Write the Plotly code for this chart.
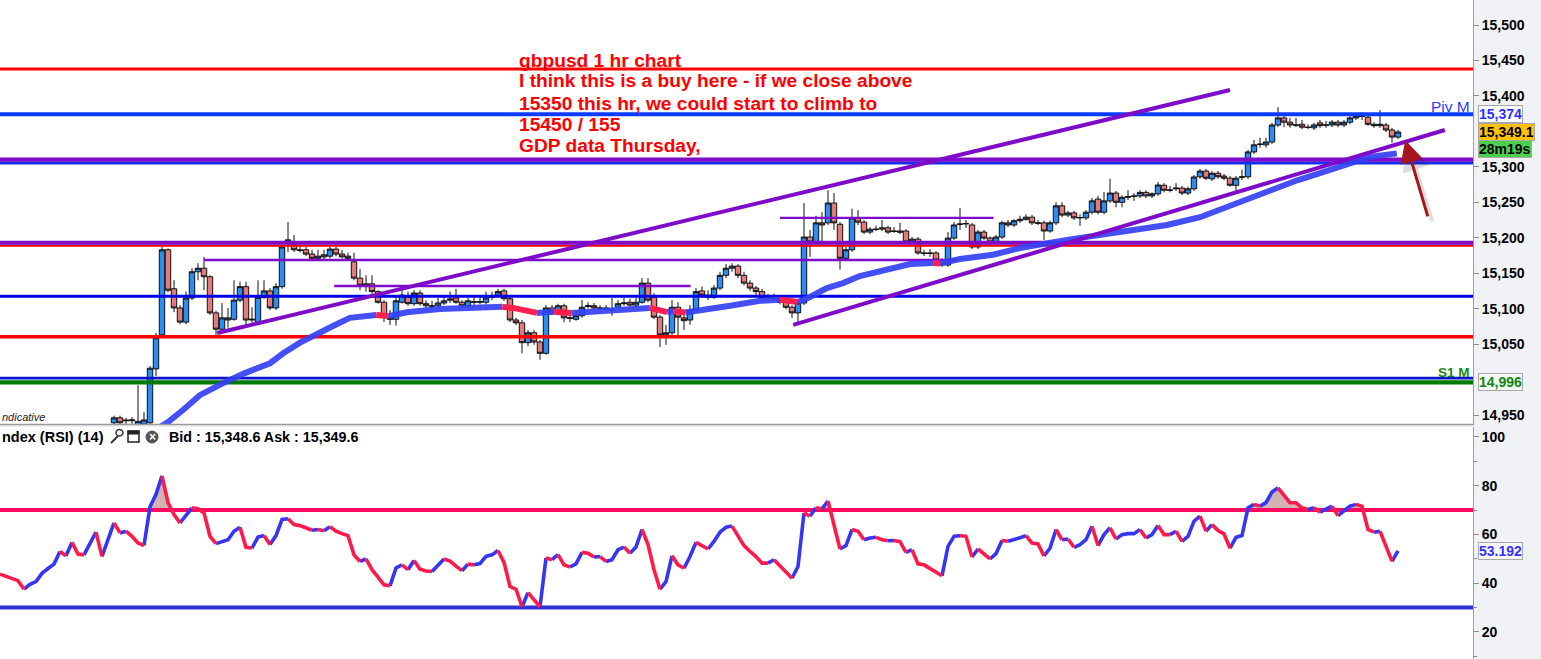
import plotly.graph_objects as go

# ---------------- canvas geometry (layout only) ----------------
W, H = 1541, 659
PLOT_W = 1473          # plot area width in px (right margin holds the axis)
PRICE_BOTTOM_PX = 424  # bottom of price panel
RSI_TOP_PX = 427       # top of RSI panel
FONT = "Liberation Sans, Arial, sans-serif"

# ---------------- data ----------------
first_bar = 19   # index of first visible candle (bars are 1 hour each)

opens = [
    14939, 14946, 14943, 14942, 14934, 14937, 14939, 15015, 15063, 15183,
    15128, 15101, 15081, 15115, 15152, 15157, 15145, 15094, 15071, 15084,
    15085, 15112, 15131, 15084, 15081, 15116, 15125, 15101, 15131, 15194,
    15190, 15183, 15183, 15177, 15171, 15176, 15174, 15184, 15177, 15174,
    15166, 15143, 15135, 15135, 15124, 15109, 15087, 15085, 15109, 15116,
    15107, 15122, 15107, 15104, 15104, 15108, 15112, 15115, 15109, 15104,
    15109, 15109, 15109, 15116, 15119, 15125, 15114, 15084, 15080, 15052,
    15066, 15053, 15037, 15101, 15095, 15104, 15087, 15085, 15090, 15103,
    15104, 15101, 15101, 15098, 15102, 15107, 15109, 15105, 15109, 15136,
    15116, 15088, 15063, 15066, 15102, 15087, 15084, 15098, 15125, 15119,
    15116, 15129, 15147, 15157, 15160, 15147, 15136, 15129, 15124, 15115,
    15114, 15115, 15112, 15102, 15094, 15108, 15201, 15194, 15221, 15221,
    15249, 15219, 15171, 15183, 15228, 15222, 15208, 15211.5, 15214, 15214,
    15209.5, 15209.5, 15209.5, 15194, 15198, 15178.5, 15178.5, 15178.5, 15168.5, 15161.5,
    15199.5, 15219.5, 15219.5, 15218, 15187, 15208, 15199.5, 15194, 15201, 15221,
    15218, 15224, 15226, 15229, 15221, 15221, 15209.5, 15221, 15245, 15232,
    15235, 15228, 15228, 15236, 15254.5, 15236, 15252, 15263, 15250, 15257,
    15259, 15259, 15264, 15259, 15262, 15274, 15267.3, 15269, 15270, 15263,
    15269, 15286, 15294, 15283, 15291, 15287, 15284, 15274, 15286, 15286,
    15321, 15331.5, 15331, 15335, 15359, 15369, 15363, 15359, 15360, 15356,
    15355, 15362, 15359, 15359, 15363, 15359, 15363, 15369, 15372, 15370,
    15360, 15358, 15359, 15352, 15342,
]
highs = [
    14949, 14949, 14946, 14947, 14992, 14954, 15019, 15066, 15187, 15185,
    15140, 15105, 15124, 15157, 15164, 15173, 15147, 15097, 15108, 15101,
    15140, 15138, 15138, 15102, 15140, 15140, 15129, 15136, 15190, 15222,
    15204, 15188, 15187, 15183, 15183, 15183, 15187, 15187, 15183, 15179,
    15179, 15156, 15147, 15147, 15126, 15112, 15098, 15119, 15126, 15124,
    15126, 15126, 15112, 15111, 15115, 15118, 15124, 15128, 15112, 15115,
    15116, 15118, 15124, 15124, 15128, 15128, 15116, 15087, 15084, 15070,
    15070, 15056, 15105, 15105, 15107, 15107, 15095, 15098, 15112, 15109,
    15108, 15105, 15105, 15115, 15112, 15115, 15114, 15115, 15143, 15143,
    15122, 15091, 15077, 15112, 15109, 15098, 15105, 15129, 15131, 15126,
    15133, 15152, 15163, 15164, 15163, 15152, 15140, 15132, 15128, 15121,
    15121, 15118, 15115, 15105, 15111, 15249, 15211, 15231, 15236, 15267,
    15263, 15222, 15187, 15241, 15239, 15225, 15215, 15217, 15225, 15217,
    15215, 15221, 15212, 15201, 15201, 15183, 15184, 15181, 15171, 15208,
    15222, 15242, 15225, 15221, 15211, 15211, 15202, 15204, 15224, 15225,
    15226, 15231, 15233, 15232, 15225, 15224, 15224, 15250, 15250, 15238,
    15238, 15233, 15239, 15256, 15259, 15264.5, 15283, 15266, 15260, 15267,
    15263, 15267, 15267, 15264, 15278.6, 15277, 15273, 15277, 15273, 15272,
    15288.5, 15297, 15297, 15294, 15294, 15290, 15287, 15287, 15296, 15324,
    15338, 15341, 15341, 15362, 15384, 15373, 15369, 15369, 15366, 15360,
    15362, 15366, 15364.6, 15366, 15366, 15366, 15372, 15376, 15377, 15373,
    15363, 15380, 15362, 15355, 15352,
]
lows = [
    14936, 14936, 14937, 14937, 14929, 14932, 14936, 15005, 15060, 15123,
    15095, 15078, 15078, 15112, 15140, 15126, 15091, 15063, 15068, 15073,
    15083, 15109, 15073, 15080, 15078, 15114, 15098, 15098, 15128, 15180,
    15180, 15179, 15174, 15170, 15170, 15170, 15171, 15174, 15171, 15169,
    15140, 15126, 15124, 15121, 15107, 15081, 15077, 15076, 15107, 15104,
    15104, 15104, 15101, 15100, 15101, 15105, 15108, 15107, 15101, 15101,
    15105, 15106, 15106, 15112, 15116, 15111, 15081, 15077, 15037, 15047,
    15049, 15028, 15035, 15091, 15092, 15081, 15081, 15083, 15087, 15100,
    15098, 15098, 15097, 15090, 15100, 15104, 15102, 15102, 15107, 15109,
    15085, 15046, 15049, 15061, 15063, 15070, 15077, 15095, 15115, 15112,
    15114, 15126, 15143, 15152, 15143, 15133, 15125, 15119, 15112, 15111,
    15112, 15106, 15099, 15087, 15080, 15105, 15173, 15191, 15194, 15218,
    15211, 15155, 15169, 15180, 15218, 15205, 15205, 15209.5, 15209.5, 15205,
    15207, 15205, 15191, 15191, 15176, 15174, 15173, 15166, 15159, 15159,
    15197, 15211, 15214, 15184, 15184, 15197, 15191, 15191, 15198, 15215,
    15215, 15221, 15224, 15218, 15218, 15197, 15207, 15218, 15229, 15229,
    15225, 15217, 15225, 15233, 15233, 15233, 15249, 15243, 15243, 15253,
    15252, 15256, 15256, 15256, 15259, 15264, 15264, 15266, 15260, 15260,
    15266, 15283, 15281, 15280, 15283, 15281, 15272, 15263, 15281, 15283,
    15318, 15327, 15327, 15332, 15356, 15356, 15355, 15356, 15353, 15353,
    15352, 15355, 15355, 15356, 15356, 15356, 15360, 15366, 15366, 15358,
    15355, 15355, 15349, 15334, 15339,
]
closes = [
    14946, 14939, 14942, 14943, 14941, 14943, 15016, 15059, 15183, 15126,
    15101, 15081, 15115, 15152, 15157, 15145, 15094, 15071, 15087, 15087,
    15112, 15131, 15084, 15085, 15116, 15125, 15101, 15131, 15187, 15197,
    15183, 15182, 15177, 15171, 15174, 15173, 15184, 15177, 15173, 15171,
    15143, 15133, 15133, 15124, 15109, 15088, 15085, 15111, 15119, 15107,
    15122, 15107, 15104, 15103.5, 15108, 15111, 15113.5, 15109, 15104, 15111,
    15109.5, 15110, 15115, 15118, 15124, 15114, 15084, 15080, 15052, 15066,
    15053, 15037, 15101, 15095, 15104, 15087, 15086.5, 15090, 15102, 15104,
    15101, 15100.5, 15099.5, 15098.5, 15107, 15108, 15105, 15109, 15136, 15112,
    15088, 15063, 15066, 15102, 15088, 15083, 15098, 15124, 15119, 15116,
    15129, 15147, 15157, 15160, 15147, 15136, 15129, 15124, 15115, 15114.5,
    15116, 15109, 15102, 15094, 15108, 15201, 15194, 15221, 15218, 15249,
    15221, 15171, 15183, 15228, 15222, 15208, 15212, 15212, 15212.5, 15208,
    15209, 15208, 15194, 15198, 15178.5, 15178, 15178, 15168.5, 15161.5, 15199.5,
    15218, 15219, 15220, 15187, 15208, 15199.5, 15194, 15201, 15221, 15218,
    15224, 15226, 15229, 15221, 15220.5, 15209.5, 15221, 15245, 15232, 15235,
    15228, 15228.5, 15236, 15252, 15236, 15252, 15263, 15250, 15257, 15258,
    15258.5, 15264, 15259, 15262, 15274.4, 15267, 15267, 15270, 15263, 15269,
    15285.7, 15294, 15284, 15291, 15286, 15284, 15274, 15284, 15285.5, 15321,
    15331, 15332, 15335, 15359, 15369, 15363, 15359, 15358.8, 15356, 15355.5,
    15359, 15358, 15358.8, 15363, 15359, 15363, 15369, 15372, 15371, 15360,
    15358, 15360, 15352, 15342, 15349.1,
]

# RSI(14), one value per bar starting at bar 0
rsi_values = [
    43.7, 42.8, 42.2, 41.0, 37.5, 39.5, 40.6, 44.0, 46.0, 47.8,
    53.0, 51.2, 56.7, 51.9, 51.6, 56.0, 60.9, 51.0, 58.0, 64.7,
    60.6, 61.3, 59.2, 56.5, 55.4, 71.3, 76.4, 84.0, 73.0, 68.1,
    64.7, 68.1, 70.9, 70.5, 68.8, 59.2, 56.2, 57.0, 57.8, 61.3,
    62.9, 54.7, 54.4, 58.9, 59.5, 55.8, 59.5, 66.1, 66.4, 64.0,
    63.6, 62.5, 61.7, 62.0, 61.5, 63.1, 61.3, 60.3, 59.5, 51.6,
    48.9, 49.9, 45.5, 42.5, 39.3, 38.9, 46.2, 47.5, 45.5, 49.3,
    45.7, 45.0, 44.8, 47.1, 49.9, 49.0, 47.0, 45.1, 47.8, 47.5,
    48.0, 51.0, 51.6, 53.4, 48.5, 38.6, 37.5, 30.3, 36.1, 33.4,
    30.3, 50.3, 49.6, 51.7, 47.5, 46.6, 47.9, 52.6, 52.3, 50.7,
    50.9, 48.9, 49.6, 53.7, 54.8, 52.3, 54.8, 62.0, 55.8, 45.5,
    37.5, 40.6, 51.2, 47.5, 46.1, 50.9, 56.7, 55.4, 54.0, 57.1,
    60.9, 62.9, 63.4, 59.2, 55.4, 53.0, 50.9, 48.2, 48.2, 49.6,
    47.1, 44.1, 42.0, 46.8, 68.8, 67.5, 70.9, 70.5, 73.7, 64.0,
    54.0, 55.4, 62.0, 61.3, 57.8, 58.5, 58.8, 57.8, 57.4, 57.5,
    57.0, 52.6, 53.7, 47.9, 47.5, 46.0, 44.8, 43.0, 55.1, 59.2,
    59.5, 59.2, 50.7, 54.0, 51.7, 49.9, 52.1, 57.5, 57.2, 57.8,
    58.6, 59.5, 56.4, 56.1, 51.2, 54.3, 62.0, 57.8, 58.1, 54.7,
    55.8, 57.8, 63.3, 55.4, 59.9, 62.7, 58.1, 59.9, 60.3, 60.3,
    62.0, 58.5, 59.9, 63.6, 59.9, 59.9, 61.3, 57.1, 59.2, 65.4,
    67.5, 61.3, 64.0, 61.6, 60.2, 54.3, 58.8, 59.5, 70.9, 72.3,
    71.6, 73.0, 77.4, 79.1, 76.0, 73.0, 73.0, 70.9, 70.2, 70.9,
    69.1, 70.5, 71.6, 67.7, 69.5, 71.6, 72.3, 71.6, 62.0, 60.9,
    61.3, 55.1, 48.9, 53.192,
]
rsi_upper, rsi_lower = 70, 30

# moving average (bar position, price)
ma_bars = [26.5, 28, 30.5, 33.3, 37.2, 40.5, 45, 47.2, 50, 52.8, 55.5, 58.3, 60, 62.7, 64.7,
           67.8, 73.3, 78.8, 83.7, 85.5, 89.5, 92.3, 95.3, 101, 108.3, 111.2, 112.2, 114.2,
           116.7, 121.7, 126.7, 130, 133, 135, 137.8, 140.5, 143.3, 146.2, 148.8, 151.7,
           155.5, 156.7, 160, 165.5, 170, 177.8, 183.3, 188.8, 194.5, 200, 205, 208.5,
           212.2, 216.2, 220, 224.5, 228.3, 232.8]
ma_values = [14932, 14940, 14957, 14978, 14995, 15008, 15023, 15037, 15052, 15063, 15075.5,
             15087, 15089, 15091, 15089.5, 15095, 15099.5, 15101, 15102.5, 15101, 15094,
             15095.5, 15094, 15097, 15101, 15095, 15096.5, 15094.5, 15097, 15104, 15111,
             15112.5, 15109.5, 15116.4, 15129, 15136, 15146, 15152, 15159, 15163, 15164.5,
             15163.8, 15170, 15176, 15185.5, 15197, 15204, 15211, 15218, 15229, 15245,
             15256, 15270, 15281, 15291, 15302.5, 15314, 15319]

# full-width horizontal levels
level_prices = [15438, 15374, 15305.4, 15310.3, 15188.8, 15193.0, 15117.6, 15060.4, 15002, 14996]
level_colors = ['#FF0000', '#0A3BFF', '#1430F0', '#7E0BC8', '#FF0000', '#7E0BC8',
                '#0000E6', '#FF0000', '#0A14D0', '#007A00']
level_widths = [3, 4, 3, 4.3, 2.2, 4, 3, 3.4, 2.8, 4.3]

# partial horizontal (purple) levels
seg_prices = [15168.6, 15132, 15228]
seg_start = [34, 55.7, 130]
seg_end = [159.6, 115.1, 165.6]

# channel trend lines
trend_x0 = [36.2, 132.2]
trend_y0 = [15065.6, 15077]
trend_x1 = [205, 240.8]
trend_y1 = [15408.4, 15352]

price_ticks = [15500, 15450, 15400, 15300, 15250, 15200, 15150, 15100, 15050, 14950]
rsi_ticks = [100, 80, 60, 40, 20]
rsi_minor_ticks = [90, 70, 50, 30, 10]

note_lines = ["gbpusd 1 hr chart",
              "I think this is a buy here - if we close above",
              "15350 this hr, we could start to climb to",
              "15450 / 155",
              "GDP data Thursday,"]

pivot_price, s1_price = 15374, 14996
last_price, rsi_last = 15349.1, 53.192
bid_ask_text = "Bid : 15,348.6 Ask : 15,349.6"
timer_text = "28m19s"

# ---------------- helpers ----------------
def px(x):
    return x / PLOT_W

def py(y):
    return 1 - y / H

X_RANGE = [0, PLOT_W / 6.0]
PRICE_RANGE = [14937.3, 15535.3]
RSI_RANGE = [8.87, 104.05]


def direction_runs(xs, ys):
    """Split a polyline into runs of rising (up) / falling (down) segments."""
    up_x, up_y, dn_x, dn_y = [], [], [], []
    prev_up = True
    run_x, run_y, run_up = [xs[0]], [ys[0]], None
    for k in range(1, len(xs)):
        d = ys[k] - ys[k - 1]
        up = (d > 0) if d != 0 else prev_up
        prev_up = up
        if run_up is None or up == run_up:
            run_x.append(xs[k]); run_y.append(ys[k]); run_up = up
        else:
            tx, ty = (up_x, up_y) if run_up else (dn_x, dn_y)
            tx += run_x + [None]; ty += run_y + [None]
            run_x, run_y, run_up = [xs[k - 1], xs[k]], [ys[k - 1], ys[k]], up
    tx, ty = (up_x, up_y) if run_up else (dn_x, dn_y)
    tx += run_x; ty += run_y
    return up_x, up_y, dn_x, dn_y


def above_polygons(xs, ys, level):
    fx, fy = [], []
    inside = False
    for k in range(len(xs)):
        v = ys[k]
        if k > 0:
            v0 = ys[k - 1]
            if (v0 > level) != (v > level):
                t = (level - v0) / (v - v0)
                xc = xs[k - 1] + t * (xs[k] - xs[k - 1])
                if not inside:
                    fx += [xc]; fy += [level]; inside = True
                else:
                    fx += [xc, None]; fy += [level, None]; inside = False
        if v > level:
            if not inside:
                fx.append(xs[k]); fy.append(level); inside = True
            fx.append(xs[k]); fy.append(v)
    return fx, fy


fig = go.Figure()

# ---------------- price panel ----------------
bars = list(range(first_bar, first_bar + len(opens)))
fig.add_trace(go.Candlestick(
    x=bars, open=opens, high=highs, low=lows, close=closes,
    increasing=dict(fillcolor='#2B8CF2', line=dict(color='#101010', width=1)),
    decreasing=dict(fillcolor='#E27C7C', line=dict(color='#101010', width=1)),
    whiskerwidth=0, hoverinfo='skip', showlegend=False, xaxis='x', yaxis='y'))

for p, c, w in zip(level_prices, level_colors, level_widths):
    fig.add_trace(go.Scatter(x=X_RANGE, y=[p, p], mode='lines', line=dict(color=c, width=w),
                             hoverinfo='skip', showlegend=False, xaxis='x', yaxis='y'))
for p, a, b in zip(seg_prices, seg_start, seg_end):
    fig.add_trace(go.Scatter(x=[a, b], y=[p, p], mode='lines', line=dict(color='#7E0BC8', width=2.4),
                             hoverinfo='skip', showlegend=False, xaxis='x', yaxis='y'))

ux, uy, dx, dy = direction_runs(ma_bars, ma_values)
fig.add_trace(go.Scatter(x=ux, y=uy, mode='lines', line=dict(color='rgba(52,64,245,0.92)', width=6),
                         hoverinfo='skip', showlegend=False, xaxis='x', yaxis='y'))
fig.add_trace(go.Scatter(x=dx, y=dy, mode='lines', line=dict(color='#FF1F4E', width=6),
                         hoverinfo='skip', showlegend=False, xaxis='x', yaxis='y'))

for a, b, c, d in zip(trend_x0, trend_y0, trend_x1, trend_y1):
    fig.add_trace(go.Scatter(x=[a, c], y=[b, d], mode='lines', line=dict(color='#7E0BC8', width=4),
                             hoverinfo='skip', showlegend=False, xaxis='x', yaxis='y'))

# ---------------- RSI panel ----------------
rsi_x = list(range(len(rsi_values)))
fx, fy = above_polygons(rsi_x, rsi_values, rsi_upper)
fig.add_trace(go.Scatter(x=fx, y=fy, mode='lines', fill='toself', fillcolor='#D2B2B2',
                         line=dict(width=0, color='rgba(0,0,0,0)'), hoverinfo='skip',
                         showlegend=False, xaxis='x', yaxis='y2'))
fig.add_trace(go.Scatter(x=X_RANGE, y=[rsi_upper] * 2, mode='lines', line=dict(color='#FF0A5E', width=4),
                         hoverinfo='skip', showlegend=False, xaxis='x', yaxis='y2'))
fig.add_trace(go.Scatter(x=X_RANGE, y=[rsi_lower] * 2, mode='lines', line=dict(color='#3030D4', width=4),
                         hoverinfo='skip', showlegend=False, xaxis='x', yaxis='y2'))
ux, uy, dx, dy = direction_runs(rsi_x, rsi_values)
fig.add_trace(go.Scatter(x=ux, y=uy, mode='lines', line=dict(color='#3535F5', width=3.6),
                         hoverinfo='skip', showlegend=False, xaxis='x', yaxis='y2'))
fig.add_trace(go.Scatter(x=dx, y=dy, mode='lines', line=dict(color='#FF1A4A', width=3.6),
                         hoverinfo='skip', showlegend=False, xaxis='x', yaxis='y2'))

# ---------------- annotations ----------------
ann = []
note_y = [60, 81, 103, 124, 146]
for t, yy in zip(note_lines, note_y):
    ann.append(dict(x=px(517), y=py(yy), xref='paper', yref='paper', xanchor='left', yanchor='middle',
                    text='<b>%s</b>' % t, showarrow=False,
                    font=dict(family=FONT, size=19.2, color='#FF0000')))

ann.append(dict(x=px(1472), y=py(106), xref='paper', yref='paper', xanchor='right', yanchor='middle',
                text='Piv M', showarrow=False, font=dict(family=FONT, size=15.5, color='#2A3CFF')))
ann.append(dict(x=px(1472), y=py(372), xref='paper', yref='paper', xanchor='right', yanchor='middle',
                text='<b>S1 M</b>', showarrow=False, font=dict(family=FONT, size=13.5, color='#128A12')))

# arrow shadow + arrow
ann.append(dict(x=234.6, y=15334, xref='x', yref='y', ax=25, ay=80, text='', showarrow=True,
                arrowhead=2, arrowsize=1.4, arrowwidth=4, arrowcolor='rgba(0,0,0,0.13)'))
ann.append(dict(x=234.2, y=15338, xref='x', yref='y', ax=23, ay=78, text='', showarrow=True,
                arrowhead=2, arrowsize=1.5, arrowwidth=3, arrowcolor='#A8161C'))

box_font = dict(family=FONT, size=14)
ann.append(dict(x=px(1478), y=pivot_price, xref='paper', yref='y', xanchor='left', yanchor='middle',
                text='<b>15,374</b>', showarrow=False, bgcolor='#FFFFFF', bordercolor='#A8A8A8',
                borderwidth=1, borderpad=0, font=dict(box_font, color='#2F2FFF')))
ann.append(dict(x=px(1478), y=last_price, xref='paper', yref='y', xanchor='left', yanchor='middle',
                text='<b>15,349.1</b>', showarrow=False, bgcolor='#FFC20A', bordercolor='#A8A8A8',
                borderwidth=1, borderpad=0, font=dict(box_font, color='#000000')))
ann.append(dict(x=px(1478), y=py(149.5), xref='paper', yref='paper', xanchor='left', yanchor='middle',
                text='<b>%s</b>' % timer_text, showarrow=False, bgcolor='#4CCF4C', bordercolor='#A8A8A8',
                borderwidth=1, borderpad=0, font=dict(box_font, color='#000000')))
ann.append(dict(x=px(1478), y=s1_price, xref='paper', yref='y', xanchor='left', yanchor='middle',
                text='<b>14,996</b>', showarrow=False, bgcolor='#F4F6F4', bordercolor='#A8A8A8',
                borderwidth=1, borderpad=0, font=dict(box_font, color='#118811')))
ann.append(dict(x=px(1478), y=rsi_last, xref='paper', yref='y2', xanchor='left', yanchor='middle',
                text='<b>53.192</b>', showarrow=False, bgcolor='#F8F8FC', bordercolor='#A8A8A8',
                borderwidth=1, borderpad=0, font=dict(box_font, color='#3333FF')))

# RSI header
ann.append(dict(x=px(0), y=py(436.5), xref='paper', yref='paper', xanchor='left', yanchor='middle',
                text='<b>ndex (RSI) (14)</b>', showarrow=False, font=dict(family=FONT, size=14.5, color='#000')))
ann.append(dict(x=px(167), y=py(436.5), xref='paper', yref='paper', xanchor='left', yanchor='middle',
                text='<b>%s</b>' % bid_ask_text, showarrow=False, font=dict(family=FONT, size=14.3, color='#000')))
ann.append(dict(x=px(152), y=py(437), xref='paper', yref='paper', xanchor='center', yanchor='middle',
                text='<b>×</b>', showarrow=False, font=dict(family=FONT, size=12, color='#FFFFFF')))
ann.append(dict(x=px(0), y=py(417), xref='paper', yref='paper', xanchor='left', yanchor='middle',
                text='<i>ndicative</i>', showarrow=False, font=dict(family=FONT, size=11, color='#222')))

shapes = [
    # panel separator
    dict(type='line', xref='paper', yref='paper', x0=0, x1=px(1474), y0=py(424.5), y1=py(424.5),
         line=dict(color='#9A9A9A', width=1.5)),
    # wrench icon
    dict(type='line', xref='paper', yref='paper', x0=px(111), x1=px(118), y0=py(443), y1=py(436),
         line=dict(color='#333', width=2)),
    dict(type='circle', xref='paper', yref='paper', x0=px(116), x1=px(123), y0=py(436), y1=py(429.5),
         line=dict(color='#333', width=1.5)),
    # window icon
    dict(type='rect', xref='paper', yref='paper', x0=px(128), x1=px(139), y0=py(442), y1=py(431),
         line=dict(color='#222', width=1.5), fillcolor='#FFFFFF'),
    dict(type='rect', xref='paper', yref='paper', x0=px(128), x1=px(139), y0=py(434), y1=py(431),
         line=dict(color='#222', width=1), fillcolor='#222'),
    # close icon
    dict(type='circle', xref='paper', yref='paper', x0=px(146), x1=px(158), y0=py(443), y1=py(431),
         line=dict(color='#555', width=1), fillcolor='#555555'),
]

fig.update_layout(
    width=W, height=H,
    margin=dict(l=0, r=W - PLOT_W, t=0, b=0, pad=0),
    paper_bgcolor='#F0F2F5', plot_bgcolor='#FFFFFF',
    showlegend=False, hovermode=False,
    boxgap=0.05, boxgroupgap=0.05,
    xaxis=dict(range=X_RANGE, visible=False, rangeslider=dict(visible=False), fixedrange=True),
    yaxis=dict(domain=[1 - PRICE_BOTTOM_PX / H, 1], range=PRICE_RANGE, side='right',
               tickvals=price_ticks, ticktext=['<b>{:,}</b>'.format(v) for v in price_ticks],
               tickfont=dict(family=FONT, size=14, color='#000'),
               ticks='outside', ticklen=5, tickcolor='#8A8A8A', showline=True, linecolor='#A0A0A0',
               linewidth=1, showgrid=False, zeroline=False, fixedrange=True),
    yaxis2=dict(domain=[0, 1 - RSI_TOP_PX / H], range=RSI_RANGE, side='right', anchor='x',
                tickvals=rsi_ticks, ticktext=['<b>%d</b>' % v for v in rsi_ticks],
                tickfont=dict(family=FONT, size=14, color='#000'),
                ticks='outside', ticklen=5, tickcolor='#8A8A8A', showline=True, linecolor='#A0A0A0',
                linewidth=1, showgrid=False, zeroline=False, fixedrange=True,
                minor=dict(tickvals=rsi_minor_ticks, ticks='outside', ticklen=3, tickcolor='#8A8A8A')),
    annotations=ann, shapes=shapes,
)

fig.write_html("out.html", config={'displayModeBar': False},
               post_script="document.body.style.margin='0px';document.body.style.overflow='hidden';")
